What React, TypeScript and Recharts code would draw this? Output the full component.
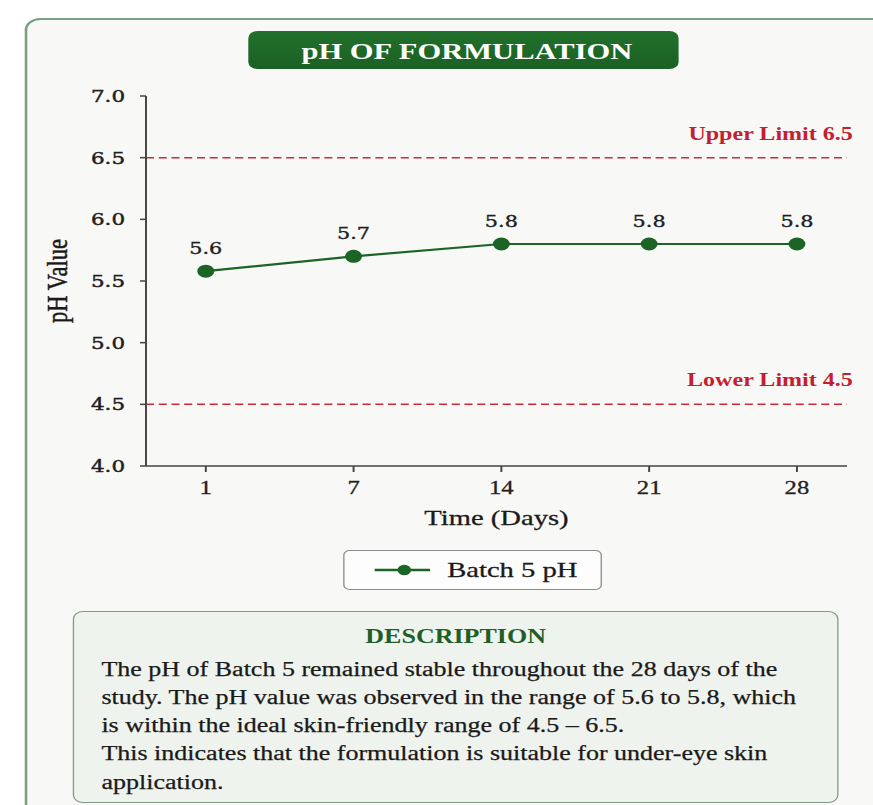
import React from 'react';
import {
  LineChart,
  Line,
  XAxis,
  YAxis,
  ReferenceLine,
  LabelList,
  Label,
  Legend,
} from 'recharts';

// chart values
const DAYS = ['1', '7', '14', '21', '28'];
const PH_VALUES = [5.58, 5.7, 5.8, 5.8, 5.8];
const Y_TICKS = [4.0, 4.5, 5.0, 5.5, 6.0, 6.5, 7.0];
const UPPER_LIMIT = 6.5;
const LOWER_LIMIT = 4.5;
const SERIES_NAME = 'Batch 5 pH';

const DESCRIPTION_LINES = [
  'The pH of Batch 5 remained stable throughout the 28 days of the',
  'study. The pH value was observed in the range of 5.6 to 5.8, which',
  'is within the ideal skin-friendly range of 4.5 \u2013 6.5.',
  'This indicates that the formulation is suitable for under-eye skin',
  'application.',
];

const chartData = DAYS.map((day, i) => ({ day, ph: PH_VALUES[i] }));

// the reference picture is stretched horizontally, so everything is drawn narrower and scaled
const STRETCH = 1.3;
const INNER_W = 873 / STRETCH;

const GREEN = '#1c6425';
const RED = '#d0283a';
const SERIF = '"Liberation Serif", "Times New Roman", serif';
const DEJAVU = '"DejaVu Serif", serif';

const limitLabel = (text: string) => (props: any) => {
  const { viewBox } = props;
  if (!viewBox) return null;
  return (
    <text
      x={viewBox.x + viewBox.width + 4.5}
      y={viewBox.y - 18}
      textAnchor="end"
      fill="#c41e30"
      fontFamily={SERIF}
      fontSize={18.5}
      fontWeight={700}
    >
      {text}
    </text>
  );
};

const renderPointLabel = (props: any) => {
  const { x, y, value } = props;
  return (
    <text
      x={x}
      y={y - 17}
      textAnchor="middle"
      fill="#1e1e1e"
      stroke="#1e1e1e"
      strokeWidth={0.35}
      fontFamily={DEJAVU}
      fontSize={16}
    >
      {Number(value).toFixed(1)}
    </text>
  );
};

const renderXLabel = (props: any) => {
  const { viewBox } = props;
  return (
    <text
      x={viewBox.x + viewBox.width / 2}
      y={viewBox.y + 59}
      textAnchor="middle"
      fill="#1a1a1a"
      stroke="#1a1a1a"
      strokeWidth={0.3}
      fontFamily={SERIF}
      fontSize={22}
    >
      Time (Days)
    </text>
  );
};

const renderYLabel = (props: any) => {
  const { viewBox } = props;
  const cx = 51.3;
  const cy = viewBox.y + viewBox.height / 2;
  return (
    <text
      x={cx}
      y={cy}
      transform={`rotate(-90, ${cx}, ${cy})`}
      textAnchor="middle"
      fill="#1a1a1a"
      stroke="#1a1a1a"
      strokeWidth={0.4}
      fontFamily={SERIF}
      fontSize={22.5}
    >
      pH Value
    </text>
  );
};

const renderLegend = () => (
  <div
    style={{
      boxSizing: 'border-box',
      width: 199,
      height: 40,
      background: '#fdfdfd',
      border: '1.5px solid #8a8a8a',
      borderRadius: 5,
      display: 'flex',
      alignItems: 'center',
      paddingLeft: 23,
    }}
  >
    <svg width={43} height={16} style={{ display: 'block' }}>
      <line x1={0} y1={8} x2={43} y2={8} stroke={GREEN} strokeWidth={2.5} />
      <circle cx={23} cy={8} r={5.2} fill={GREEN} />
    </svg>
    <span
      style={{
        marginLeft: 13,
        fontFamily: SERIF,
        fontSize: 22,
        color: '#1a1a1a',
        lineHeight: '40px',
        WebkitTextStroke: '0.3px #1a1a1a',
      }}
    >
      {SERIES_NAME}
    </span>
  </div>
);

const App: React.FC = () => {
  return (
    <div
      style={{
        position: 'absolute',
        top: 0,
        left: 0,
        width: 873,
        height: 805,
        overflow: 'hidden',
        background: '#ffffff',
      }}
    >
      <div
        style={{
          position: 'absolute',
          top: 0,
          left: 0,
          width: INNER_W,
          height: 805,
          transform: `scaleX(${STRETCH})`,
          transformOrigin: '0 0',
        }}
      >
        {/* Card */}
        <div
          style={{
            position: 'absolute',
            left: 19.2,
            top: 18,
            width: 720,
            height: 860,
            boxSizing: 'border-box',
            border: '2px solid #78a27f',
            borderRadius: 12,
            background: '#f8f8f6',
          }}
        />

        {/* Title badge */}
        <div
          style={{
            position: 'absolute',
            left: 190.8,
            top: 31,
            width: 330.8,
            height: 38,
            borderRadius: 7,
            background: 'linear-gradient(180deg, #21702b 0%, #1b6124 100%)',
            color: '#ffffff',
            fontFamily: SERIF,
            fontWeight: 700,
            fontSize: 23.5,
            lineHeight: '38px',
            textAlign: 'center',
            paddingTop: 1,
            paddingLeft: 6,
            boxSizing: 'border-box',
          }}
        >
          pH OF FORMULATION
        </div>

        {/* Chart */}
        <div style={{ position: 'absolute', left: 0, top: 0 }}>
          <LineChart
            width={INNER_W}
            height={545}
            data={chartData}
            margin={{ top: 96, right: 20, left: 0, bottom: 19 }}
          >
            <XAxis
              dataKey="day"
              height={60}
              padding={{ left: 46, right: 38.5 }}
              stroke="#444"
              strokeWidth={1.5}
              tickSize={6}
              tickMargin={8.5}
              tick={{ fill: '#222', stroke: '#222', strokeWidth: 0.3, fontFamily: SERIF, fontSize: 19 }}
            >
              <Label content={renderXLabel} />
            </XAxis>
            <YAxis
              width={112.3}
              domain={[4, 7]}
              ticks={Y_TICKS}
              type="number"
              stroke="#444"
              strokeWidth={1.5}
              tickSize={4.6}
              tickMargin={11.5}
              tickFormatter={(v: number) => v.toFixed(1)}
              tick={{ fill: '#1e1e1e', stroke: '#1e1e1e', strokeWidth: 0.45, fontFamily: DEJAVU, fontSize: 16.5 }}
            >
              <Label content={renderYLabel} />
            </YAxis>
            <ReferenceLine
              y={UPPER_LIMIT}
              stroke={RED}
              strokeWidth={1.5}
              strokeDasharray="6.2 3.6"
              label={limitLabel(`Upper Limit ${UPPER_LIMIT}`)}
            />
            <ReferenceLine
              y={LOWER_LIMIT}
              stroke={RED}
              strokeWidth={1.5}
              strokeDasharray="6.2 3.6"
              label={limitLabel(`Lower Limit ${LOWER_LIMIT}`)}
            />
            <Legend
              layout="horizontal"
              verticalAlign="middle"
              align="center"
              content={renderLegend}
              wrapperStyle={{ top: 550, left: 264, width: 199, height: 40 }}
            />
            <Line
              type="linear"
              dataKey="ph"
              name={SERIES_NAME}
              stroke={GREEN}
              strokeWidth={2.2}
              dot={{ r: 6.5, fill: GREEN, stroke: GREEN, strokeWidth: 0 }}
              activeDot={false}
              isAnimationActive={false}
            >
              <LabelList dataKey="ph" content={renderPointLabel} />
            </Line>
          </LineChart>
        </div>

        {/* Description */}
        <div
          style={{
            position: 'absolute',
            left: 56,
            top: 611,
            width: 589,
            height: 192,
            boxSizing: 'border-box',
            border: '1.5px solid #7f9c83',
            borderRadius: 8,
            background: '#eff3ee',
            paddingTop: 11.7,
            paddingLeft: 21,
            fontFamily: SERIF,
            color: '#1a1a1a',
          }}
        >
          <div
            style={{
              fontWeight: 700,
              fontSize: 20,
              lineHeight: '24px',
              color: '#1f5e27',
              textAlign: 'center',
              marginLeft: -21,
            }}
          >
            DESCRIPTION
          </div>
          <div
            style={{
              marginTop: 6.9,
              fontSize: 20,
              lineHeight: '28.3px',
              WebkitTextStroke: '0.25px #1a1a1a',
            }}
          >
            {DESCRIPTION_LINES.map((line) => (
              <div key={line} style={{ whiteSpace: 'nowrap' }}>
                {line}
              </div>
            ))}
          </div>
        </div>
      </div>
    </div>
  );
};

export default App;
